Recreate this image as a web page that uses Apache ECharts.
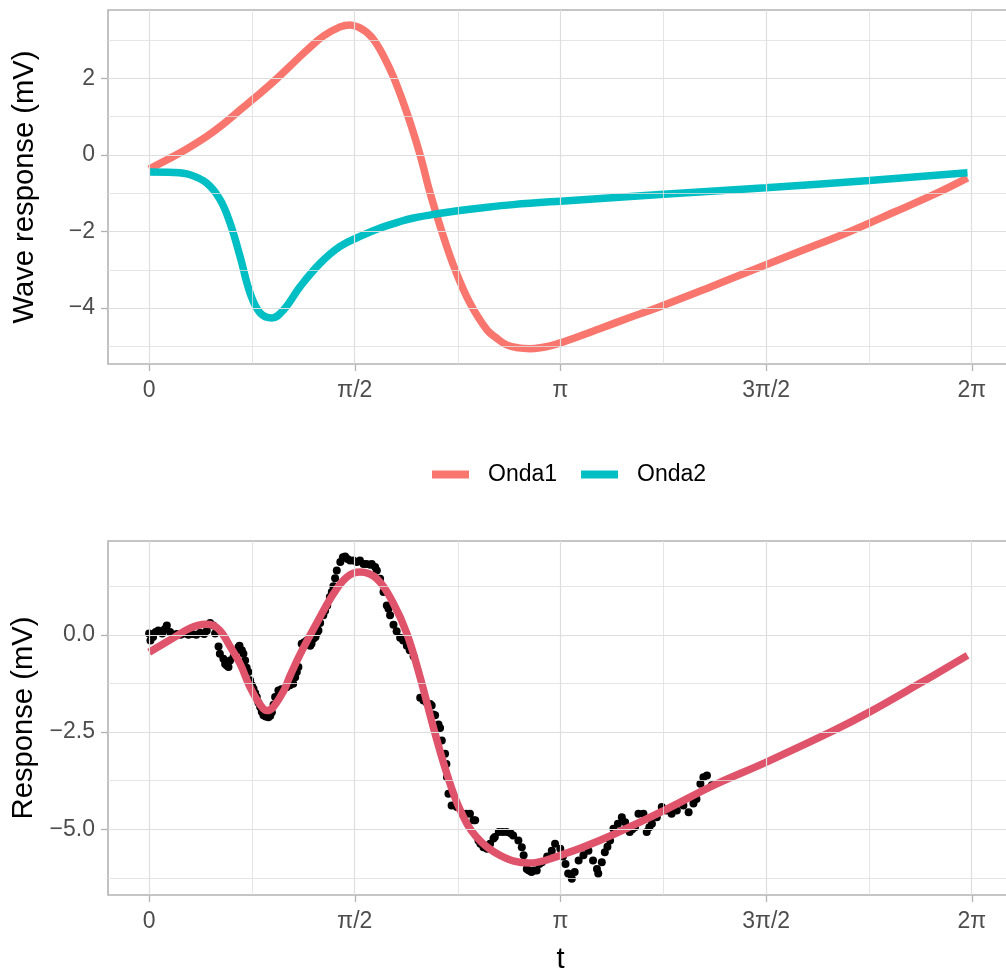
<!DOCTYPE html>
<html>
<head>
<meta charset="utf-8">
<script src="https://cdn.jsdelivr.net/npm/echarts@6/dist/echarts.min.js"></script>
<style>
html,body{margin:0;padding:0;background:#fff;}
#c{width:1006px;height:970px;}
</style>
</head>
<body>
<div id="c"></div>
<script>
// ---------- DATA ----------
const PI = Math.PI;
// x ticks (radians) and their labels
const xTickValues = [0, PI / 2, PI, 3 * PI / 2, 2 * PI];
const xTickLabels = ['0', 'π/2', 'π', '3π/2', '2π'];
const xMinorValues = [PI / 4, 3 * PI / 4, 5 * PI / 4, 7 * PI / 4];

// top panel y ticks
const topYTicks = [-4, -2, 0, 2];
const topYLabels = ['−4', '−2', '0', '2'];
const topYMinor = [-5, -3, -1, 1, 3];

// bottom panel y ticks
const botYTicks = [-5, -2.5, 0];
const botYLabels = ['−5.0', '−2.5', '0.0'];
const botYMinor = [-6.25, -3.75, -1.25, 1.25];

// Onda1 (top panel)
const onda1T = [0, 0.186, 0.30, 0.44, 0.57, 0.695, 0.789, 0.95, 1.077, 1.204, 1.331, 1.458, 1.535, 1.60, 1.66, 1.72, 1.79, 1.87, 1.978, 2.069, 2.146, 2.235, 2.337, 2.45, 2.58, 2.66, 2.73, 2.82, 2.91, 3.00, 3.07, 3.14, 3.29, 3.44, 3.66, 3.88, 4.25, 4.615, 5.00, 5.353, 5.70, 6.015, 6.25];
const onda1V = [-0.37, -0.04, 0.18, 0.48, 0.81, 1.17, 1.44, 1.91, 2.32, 2.73, 3.10, 3.34, 3.39, 3.33, 3.20, 2.98, 2.58, 2.00, 1.00, 0.00, -1.00, -2.00, -3.00, -3.87, -4.57, -4.80, -4.96, -5.04, -5.06, -5.03, -4.98, -4.91, -4.73, -4.54, -4.26, -3.99, -3.50, -3.00, -2.48, -2.00, -1.48, -1.00, -0.60];

// Onda2 (top panel)
const onda2T = [0, 0.186, 0.313, 0.44, 0.542, 0.618, 0.695, 0.771, 0.848, 0.937, 1.026, 1.153, 1.306, 1.458, 1.61, 1.764, 1.917, 2.02, 2.20, 2.357, 2.55, 2.78, 3.14, 3.93, 4.71, 5.50, 6.25];
const onda2V = [-0.45, -0.46, -0.52, -0.74, -1.17, -1.78, -2.66, -3.61, -4.13, -4.26, -4.05, -3.44, -2.83, -2.39, -2.13, -1.91, -1.74, -1.65, -1.54, -1.46, -1.38, -1.30, -1.21, -1.03, -0.86, -0.67, -0.47];

// Fitted response (bottom panel)
const fitT = [0, 0.186, 0.313, 0.43, 0.49, 0.555, 0.618, 0.695, 0.771, 0.848, 0.90, 0.95, 1.026, 1.077, 1.153, 1.28, 1.407, 1.51, 1.61, 1.739, 1.866, 1.968, 2.07, 2.17, 2.27, 2.375, 2.50, 2.68, 2.90, 3.14, 3.44, 3.93, 4.31, 4.71, 5.23, 5.50, 5.86, 6.25];
const fitV = [-0.45, -0.08, 0.17, 0.27, 0.24, 0.05, -0.30, -0.75, -1.35, -1.80, -1.95, -1.85, -1.45, -1.05, -0.50, 0.30, 1.05, 1.48, 1.61, 1.44, 0.80, 0.03, -1.10, -2.37, -3.53, -4.50, -5.20, -5.67, -5.87, -5.67, -5.29, -4.52, -3.87, -3.28, -2.46, -1.99, -1.30, -0.53];

// Observed noisy points (bottom panel)
const obsT = [0.00, 0.01, 0.03, 0.05, 0.07, 0.10, 0.12, 0.135, 0.16, 0.18, 0.21, 0.24, 0.27, 0.30, 0.33, 0.36, 0.39, 0.42, 0.44, 0.466, 0.49, 0.504, 0.53, 0.54, 0.567, 0.58, 0.593, 0.606, 0.618, 0.644, 0.657, 0.682, 0.69, 0.708, 0.72, 0.733, 0.745, 0.758, 0.771, 0.785, 0.797, 0.81, 0.822, 0.835, 0.848, 0.86, 0.873, 0.89, 0.911, 0.925, 0.937, 0.95, 0.962, 0.987, 1.01, 1.05, 1.075, 1.10, 1.115, 1.128, 1.14, 1.165, 1.185, 1.204, 1.23, 1.24, 1.255, 1.27, 1.28, 1.293, 1.306, 1.33, 1.344, 1.36, 1.38, 1.395, 1.407, 1.42, 1.433, 1.46, 1.48, 1.497, 1.515, 1.535, 1.56, 1.586, 1.61, 1.637, 1.66, 1.688, 1.70, 1.726, 1.739, 1.764, 1.79, 1.815, 1.828, 1.84, 1.866, 1.89, 1.917, 1.94, 1.968, 1.99, 2.02, 2.07, 2.095, 2.12, 2.146, 2.158, 2.17, 2.184, 2.21, 2.222, 2.235, 2.26, 2.27, 2.275, 2.286, 2.31, 2.35, 2.42, 2.45, 2.477, 2.49, 2.515, 2.53, 2.553, 2.58, 2.604, 2.63, 2.64, 2.67, 2.70, 2.73, 2.76, 2.78, 2.82, 2.846, 2.86, 2.884, 2.90, 2.92, 2.94, 2.96, 2.98, 3.00, 3.04, 3.075, 3.10, 3.14, 3.16, 3.18, 3.20, 3.228, 3.25, 3.28, 3.317, 3.355, 3.39, 3.42, 3.43, 3.457, 3.48, 3.50, 3.52, 3.546, 3.58, 3.61, 3.635, 3.67, 3.69, 3.71, 3.737, 3.775, 3.80, 3.82, 3.84, 3.877, 3.915, 3.95, 3.99, 4.03, 4.08, 4.12, 4.157, 4.18, 4.21, 4.233, 4.26, 4.297];
const obsV = [0.03, -0.15, -0.06, 0.07, 0.11, 0.03, 0.15, 0.24, 0.07, 0.00, 0.02, 0.00, 0.03, 0.00, 0.02, 0.00, 0.05, 0.02, 0.10, 0.30, 0.24, 0.03, -0.30, -0.49, -0.62, -0.75, -0.79, -0.83, -0.66, -0.58, -0.45, -0.32, -0.28, -0.40, -0.49, -0.66, -0.85, -0.96, -1.17, -1.30, -1.39, -1.50, -1.60, -1.75, -1.86, -1.98, -2.07, -2.10, -2.12, -2.08, -1.99, -1.80, -1.60, -1.43, -1.40, -1.35, -1.30, -1.26, -1.09, -0.96, -0.83, -0.23, -0.19, -0.15, -0.28, -0.23, -0.10, -0.06, 0.03, 0.11, 0.30, 0.50, 0.62, 0.75, 0.97, 1.10, 1.25, 1.45, 1.65, 1.87, 1.99, 2.01, 1.95, 1.91, 1.91, 1.87, 1.91, 1.82, 1.82, 1.80, 1.82, 1.74, 1.65, 1.44, 1.10, 0.75, 0.67, 0.50, 0.26, 0.09, -0.08, -0.15, -0.28, -0.40, -0.55, -1.62, -1.69, -1.75, -1.78, -1.82, -2.05, -2.07, -2.31, -2.40, -2.72, -3.06, -3.32, -3.66, -4.09, -4.39, -4.43, -4.60, -4.60, -4.77, -4.77, -5.29, -5.37, -5.46, -5.50, -5.37, -5.24, -5.20, -5.07, -5.07, -5.07, -5.10, -5.16, -5.29, -5.46, -5.67, -6.02, -6.06, -6.10, -6.06, -6.06, -5.89, -5.85, -5.70, -5.55, -5.37, -5.50, -5.70, -5.89, -6.14, -6.27, -6.10, -5.80, -5.67, -5.55, -5.80, -6.02, -6.14, -5.85, -5.59, -5.45, -5.29, -4.99, -4.86, -4.69, -4.82, -5.07, -5.00, -4.95, -4.60, -4.60, -5.07, -4.95, -4.86, -4.69, -4.43, -4.52, -4.60, -4.52, -4.39, -4.56, -4.34, -4.22, -3.83, -3.66, -3.62, -3.87];

// ---------- CHART ----------
const FONT = '"Liberation Sans", Arial, Helvetica, sans-serif';
const GRID_COL = '#DEDEDE';
const BORDER_COL = '#B3B3B3';
const pair = (xs, ys) => xs.map((x, i) => [x, ys[i]]);
const labelFor = (vals, labels) => (v) => {
  let best = 0;
  for (let i = 1; i < vals.length; i++) if (Math.abs(vals[i] - v) < Math.abs(vals[best] - v)) best = i;
  return labels[best];
};

const xMin = -PI / 10, xMax = 2 * PI + PI / 10;
const yRanges = [[-5.46, 3.78], [-6.69, 2.41]];
const yTicksList = [topYTicks, botYTicks];
const yLabelsList = [topYLabels, botYLabels];
const yMinorList = [topYMinor, botYMinor];
const yNames = ['Wave response (mV)', 'Response (mV)'];

const grids = [
  { left: 108, top: 10, width: 905, height: 354, show: true, borderColor: BORDER_COL, borderWidth: 1.6, backgroundColor: 'transparent', outerBoundsMode: 'none', containLabel: false },
  { left: 108, top: 541, width: 905, height: 354, show: true, borderColor: BORDER_COL, borderWidth: 1.6, backgroundColor: 'transparent', outerBoundsMode: 'none', containLabel: false }
];

const xAxes = [0, 1].map(i => ({
  type: 'value', gridIndex: i, min: xMin, max: xMax, position: 'bottom',
  axisLine: { show: false, onZero: false }, splitLine: { show: false },
  axisTick: { show: true, customValues: xTickValues, length: 7, lineStyle: { color: BORDER_COL, width: 1.3 } },
  axisLabel: { customValues: xTickValues, formatter: labelFor(xTickValues, xTickLabels), color: '#4D4D4D', fontSize: 23, fontFamily: FONT, margin: 15 },
  name: i === 1 ? 't' : '', nameLocation: 'middle', nameGap: 50,
  nameTextStyle: { fontSize: 29.2, color: '#000', fontFamily: FONT }
}));

const yAxes = [0, 1].map(i => ({
  type: 'value', gridIndex: i, min: yRanges[i][0], max: yRanges[i][1], position: 'left',
  axisLine: { show: false, onZero: false }, splitLine: { show: false },
  axisTick: { show: true, customValues: yTicksList[i], length: 7, lineStyle: { color: BORDER_COL, width: 1.3 } },
  axisLabel: { customValues: yTicksList[i], formatter: labelFor(yTicksList[i], yLabelsList[i]), color: '#4D4D4D', fontSize: 23, fontFamily: FONT, margin: 13 },
  name: yNames[i], nameLocation: 'middle', nameGap: 69, nameRotate: 90,
  nameTextStyle: { fontSize: 29.2, color: '#000', fontFamily: FONT }
}));

// panel grid lines (major at tick values, minor in between)
function gridSeries(i) {
  const mk = (w) => ({ color: GRID_COL, width: w, type: 'solid', opacity: 1 });
  const data = [];
  xTickValues.forEach(v => data.push({ xAxis: v, lineStyle: mk(1.2) }));
  xMinorValues.forEach(v => data.push({ xAxis: v, lineStyle: mk(0.8) }));
  yTicksList[i].forEach(v => data.push({ yAxis: v, lineStyle: mk(1.2) }));
  yMinorList[i].forEach(v => data.push({ yAxis: v, lineStyle: mk(0.8) }));
  return {
    type: 'line', name: 'grid' + i, xAxisIndex: i, yAxisIndex: i, data: [], z: 1, silent: true, showSymbol: false,
    markLine: { silent: true, symbol: 'none', symbolSize: 0, label: { show: false }, emphasis: { disabled: true, label: { show: false } }, animation: false, data: data }
  };
}

const option = {
  animation: false,
  backgroundColor: '#fff',
  grid: grids,
  xAxis: xAxes,
  yAxis: yAxes,
  legend: {
    data: ['Onda1', 'Onda2'], left: 427, top: 458, icon: 'rect', itemWidth: 37, itemHeight: 8, itemGap: 24,
    textStyle: { fontSize: 23, color: '#000', fontFamily: FONT, padding: [0, 0, 0, 14] }
  },
  series: [
    gridSeries(0), gridSeries(1),
    { type: 'line', name: 'Onda1', xAxisIndex: 0, yAxisIndex: 0, data: pair(onda1T, onda1V), showSymbol: false, smooth: 0.4, z: 3,
      color: '#F8766D', lineStyle: { color: '#F8766D', width: 7.5, cap: 'butt' } },
    { type: 'line', name: 'Onda2', xAxisIndex: 0, yAxisIndex: 0, data: pair(onda2T, onda2V), showSymbol: false, smooth: 0.4, z: 4,
      color: '#00BFC4', lineStyle: { color: '#00BFC4', width: 7.5, cap: 'butt' } },
    { type: 'scatter', name: 'obs', xAxisIndex: 1, yAxisIndex: 1, data: pair(obsT, obsV), symbol: 'circle', symbolSize: 8, z: 3,
      itemStyle: { color: '#000', opacity: 1 } },
    { type: 'line', name: 'fit', xAxisIndex: 1, yAxisIndex: 1, data: pair(fitT, fitV), showSymbol: false, smooth: 0.4, z: 4,
      color: '#DF536B', lineStyle: { color: '#DF536B', width: 7.5, cap: 'butt' } }
  ]
};

const chart = echarts.init(document.getElementById('c'), null, { renderer: 'canvas' });
chart.setOption(option);
</script>
</body>
</html>
